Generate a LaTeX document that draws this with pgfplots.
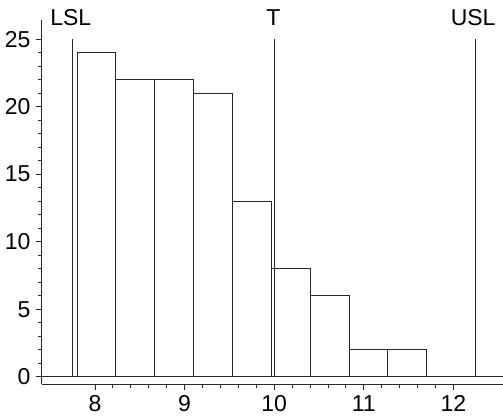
\documentclass[border=0pt]{standalone}
\usepackage{fontspec}
\setmainfont{Liberation Sans}
\usepackage{pgfplots}
\pgfplotsset{compat=1.18}
\begin{document}
\fontsize{23}{27}\selectfont
\begin{tikzpicture}
\begin{axis}[
  scale only axis, width=461pt, height=364pt,
  xmin=7.405, xmax=12.55, ymin=-0.54, ymax=26.42,
  axis lines*=left,
  xtick={8,9,10,11,12}, ytick={0,5,10,15,20,25},
  minor x tick num=4, minor y tick num=4,
  tick align=outside, major tick length=6pt, minor tick length=3.5pt,
  tick style={black!85, line width=0.9pt},
  axis line style={black!85, line width=0.9pt},
  /pgf/number format/assume math mode=true,
  ticklabel style={font=\fontsize{23}{27}\selectfont, inner sep=0pt},
  xticklabel style={anchor=north, yshift=-5pt},
  yticklabel style={anchor=east, xshift=-5pt},
  clip=false,
]
\addplot[black!85, line width=0.9pt] coordinates {(7.405,0) (12.55,0)};
\addplot[ybar interval, fill=white, draw=black!85, line width=0.9pt] coordinates {
  (7.8,24) (8.2335,22) (8.667,22) (9.1005,21) (9.534,13) (9.9675,8)
  (10.401,6) (10.8345,2) (11.268,2) (11.7015,2)};
\addplot[black!85, line width=0.9pt] coordinates {(7.75,0) (7.75,25)};
\addplot[black!85, line width=0.9pt] coordinates {(10,0) (10,25)};
\addplot[black!85, line width=0.9pt] coordinates {(12.25,0) (12.25,25)};
\node[anchor=base, inner sep=0pt] at (axis cs:7.73,25.98) {LSL};
\node[anchor=base, inner sep=0pt] at (axis cs:9.99,25.98) {T};
\node[anchor=base, inner sep=0pt] at (axis cs:12.22,25.98) {USL};
\end{axis}
\pgfresetboundingbox
\path (current axis.south west) ++(-41.7pt,-31pt) rectangle ++(503pt,415pt);
\end{tikzpicture}
\end{document}
